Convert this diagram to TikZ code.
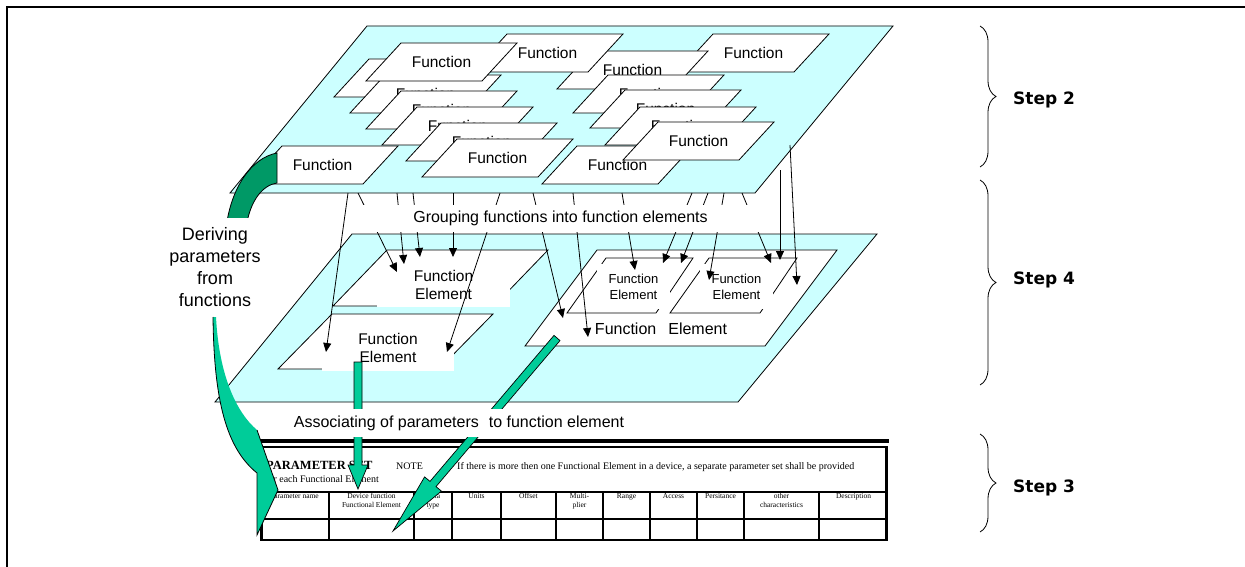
\documentclass[tikz,border=0pt]{standalone}
\usepackage{fontspec}
\setmainfont{Liberation Sans}
\newfontfamily\serifface{Liberation Serif}
\newfontfamily\stepface{DejaVu Sans}
\usetikzlibrary{arrows.meta,decorations.pathreplacing}
\definecolor{planecyan}{HTML}{CCFFFF}
\definecolor{lightgreen}{HTML}{00CC99}
\definecolor{darkgreen}{HTML}{009966}
% a slanted "Function" card: name, bottom-left x, bottom-left y, text
\newcommand\fnpar[4]{%
  \draw[fnshape] (#2,#3) -- ++(116,0) -- ++(35,-38) -- ++(-116,0) -- cycle;
  \node[fntext] (#1) at ({#2+75.5},{#3-19}) {#4};}
\begin{document}
\begin{tikzpicture}[x=1pt,y=-1pt,
  plane/.style={draw=black,line width=0.8pt,fill=planecyan},
  fnshape/.style={draw=black,line width=0.8pt,fill=white},
  fntext/.style={inner sep=0pt,font=\fontsize{15.5}{18}\selectfont},
  feshape/.style={draw=black,line width=0.8pt,fill=white},
  whitebox/.style={fill=white,draw=none,inner sep=0pt,align=center},
  grp/.style={line width=0.8pt,-{Triangle[length=9pt,width=8pt]}},
  greenarrow/.style={fill=lightgreen,draw=black,line width=0.7pt},
  tbltext/.style={inner sep=0pt,font=\serifface\fontsize{7.5}{9.5}\selectfont,align=center,anchor=north},
  notetext/.style={inner sep=0pt,anchor=base west,font=\serifface\fontsize{10}{12}\selectfont},
  stepbrace/.style={decorate,decoration={brace,amplitude=16pt},line width=0.8pt},
  steplbl/.style={anchor=west,inner sep=0pt,font=\stepface\bfseries\fontsize{17}{20}\selectfont}]
\useasboundingbox (0,0) rectangle (1245,567);
\fill[white] (0,0) rectangle (1245,567);

% frame
\draw[line width=2.5pt] (7,567) -- (7,7) -- (1245,7);

% ---------- upper plane: functions ----------
\draw[plane] (367,26) -- (893,26) -- (755,193) -- (230,193) -- cycle;
\fnpar{frt}{678}{72}{Function}
\fnpar{fr1}{557}{89}{Function}
\fnpar{frt2}{472}{72}{Function}
\fnpar{fm}{542}{184}{Function}
\fnpar{fr2}{573}{113}{Function}
\fnpar{fr3}{590}{128}{Function}
\fnpar{fr4}{605}{145}{Function}
\fnpar{fr5}{623}{160}{Function}
\fnpar{fs1}{334}{97}{Function}
\fnpar{fs2}{350}{113}{Function}
\fnpar{fs3}{366}{129}{Function}
\fnpar{fs4}{382}{145}{Function}
\fnpar{fs5}{406}{161}{Function}
\fnpar{fs6}{422}{177}{Function}
\fnpar{fa}{366}{81}{Function}
\fnpar{fl}{247}{184}{Function}

% dark green curved arrow rising into the upper plane
\filldraw[fill=darkgreen,draw=black,line width=0.8pt]
  (226,228) .. controls (231,188) and (251,158) .. (277,153)
  -- (277,183) .. controls (263,185) and (250,200) .. (246,228) -- cycle;

% ---------- lower plane: function elements ----------
\draw[plane] (352,234) -- (877,234) -- (738,402) -- (215,402) -- cycle;

\draw[feshape] (387,250) -- (548,250) -- (494,306) -- (333,306) -- cycle;
\node[whitebox,minimum width=133pt,minimum height=45pt,font=\fontsize{15.5}{18}\selectfont]
  (fel1) at (443.5,284.5) {Function\\Element};

\draw[feshape] (332,314) -- (493,314) -- (439,369) -- (278,369) -- cycle;
\node[whitebox,minimum width=132pt,minimum height=46pt,font=\fontsize{15.5}{18}\selectfont]
  (fel2) at (388,348) {Function\\Element};

\draw[feshape] (597,250) -- (837,250) -- (765,346) -- (525,346) -- cycle;
\node[inner sep=0pt,font=\fontsize{16}{19}\selectfont] (fer) at (661,329) {Function\hspace{12pt}Element};

\draw[feshape] (606,258) -- (693,258) -- (656,313) -- (567,313) -- cycle;
\node[whitebox,minimum width=73pt,minimum height=45pt,font=\fontsize{13}{16}\selectfont]
  (fer1) at (633.5,286.5) {Function\\Element};

\draw[feshape] (709,258) -- (797,258) -- (760,313) -- (670,313) -- cycle;
\node[whitebox,minimum width=73pt,minimum height=45pt,font=\fontsize{13}{16}\selectfont]
  (fer2) at (736.5,286.5) {Function\\Element};

% grouping arrows from functions to function elements
\foreach \n/\sx/\sy/\ex/\ey in {
  1/348/193/326/352, 2/358/193/397/272, 3/397/193/404/264, 4/413/193/420/257,
  5/453/193/453/257, 6/500/193/447/352, 7/533/193/563/318, 8/573/193/588/337,
  9/622/193/635/270, 10/692/193/663/263, 11/708/193/681/263, 12/724/193/709/280,
  13/742/193/771/263} {
  \coordinate (g\n s) at (\sx,\sy);
  \coordinate (g\n e) at (\ex,\ey);
  \draw[grp] (g\n s) -- (g\n e);
}
\node[whitebox,minimum width=419pt,minimum height=27pt,font=\fontsize{16}{19}\selectfont]
  (group) at (560.5,218.5) {Grouping functions into function elements};
\coordinate (g14s) at (780,170); \coordinate (g14e) at (780,260);
\coordinate (g15s) at (790,145); \coordinate (g15e) at (797,285);
\draw[grp] (g14s) -- (g14e);
\draw[grp] (g15s) -- (g15e);

% label of the derivation arrow
\node[whitebox,minimum width=120pt,minimum height=98pt,font=\fontsize{18}{22}\selectfont]
  (derive) at (215,267) {Deriving\\parameters\\from\\functions};

% ---------- parameter set table ----------
\draw[line width=3.5pt] (259,441) -- (889,441);
\draw[line width=2pt] (260,446.5) -- (888,446.5);
\draw[line width=3pt] (261,446) -- (261,541);
\draw[line width=3pt] (886.5,446) -- (886.5,541);
\draw[line width=2pt] (260,540) -- (888,540);
\draw[line width=1.5pt] (261,492) -- (886,492);
\draw[line width=1.5pt] (261,519) -- (886,519);
\foreach \cx in {329,414,452,501,556,603,650,697,744,819}
  \draw[line width=1.2pt] (\cx,492) -- (\cx,540);

\node[inner sep=0pt,anchor=base west,font=\serifface\bfseries\fontsize{12.5}{14}\selectfont]
  (pset) at (266,469.5) {PARAMETER SET};
\node[notetext] (note) at (396,469.5) {NOTE};
\node[notetext] (notetxt) at (457,469.5)
  {If there is more then one Functional Element in a device, a separate parameter set shall be provided};
\node[notetext] (notefor) at (265,482) {for each Functional Element};

\node[tbltext] (h1) at (294.5,493) {Parameter name};
\node[tbltext] (h2) at (371.5,493) {Device function\\Functional Element};
\node[tbltext] (h3) at (433,493) {Data\\type};
\node[tbltext] (h4) at (476.5,493) {Units};
\node[tbltext] (h5) at (528.5,493) {Offset};
\node[tbltext] (h6) at (579.5,493) {Multi-\\plier};
\node[tbltext] (h7) at (626.5,493) {Range};
\node[tbltext] (h8) at (673.5,493) {Access};
\node[tbltext] (h9) at (720.5,493) {Persitance};
\node[tbltext] (h10) at (781.5,493) {other\\characteristics};
\node[tbltext] (h11) at (853.5,493) {Description};

% ---------- green arrows into the table ----------
\fill[lightgreen] (213,317) .. controls (214,400) and (226,448) .. (257,473)
  -- (257,535) -- (278,490) -- (257,430) .. controls (236,412) and (219,375) .. (216,317) -- cycle;
\draw[line width=0.8pt] (213,317) .. controls (214,400) and (226,448) .. (257,473)
  -- (257,535) -- (278,490) -- (257,430);

\filldraw[greenarrow] (354,362) -- (362,362) -- (362,465) -- (368,465) -- (358,489)
  -- (348,465) -- (354,465) -- cycle;

\filldraw[greenarrow] (554.0,335.4) -- (560.0,340.6) -- (436.0,486.6) -- (441.4,491.1)
  -- (393,531) -- (424.6,476.9) -- (430.0,481.4) -- cycle;

\node[whitebox,minimum width=354pt,minimum height=28pt,font=\fontsize{16}{19}\selectfont]
  (assoc) at (459,423) {Associating of parameters\hspace{10pt}to function element};

% ---------- steps ----------
\draw[stepbrace] (980,26) -- (980,167);
\draw[stepbrace] (980,180) -- (980,385);
\draw[stepbrace] (980,434) -- (980,532);
\node[steplbl] (step2) at (1013,100) {Step 2};
\node[steplbl] (step4) at (1013,280) {Step 4};
\node[steplbl] (step3) at (1013,488) {Step 3};
\end{tikzpicture}
\end{document}
